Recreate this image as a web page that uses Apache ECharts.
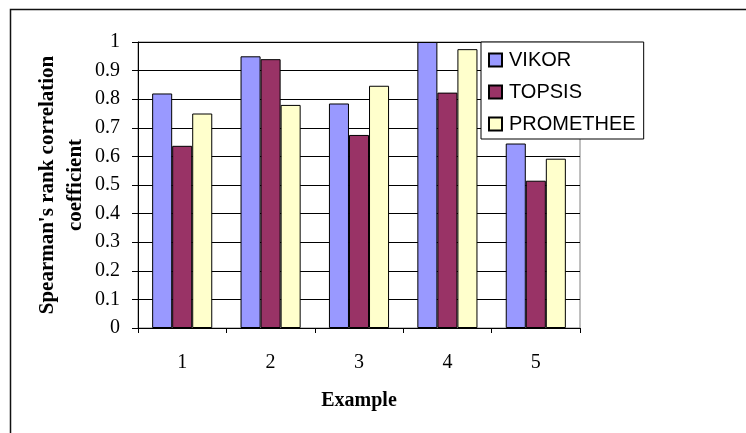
<!DOCTYPE html>
<html>
<head>
<meta charset="utf-8">
<script src="https://cdn.jsdelivr.net/npm/echarts@6/dist/echarts.min.js"></script>
<style>
html,body{margin:0;padding:0;background:#fff;}
#chart{width:746px;height:433px;}
</style>
</head>
<body>
<div id="chart"></div>
<script>
const categories = ['1', '2', '3', '4', '5'];
const seriesNames = ['VIKOR', 'TOPSIS', 'PROMETHEE'];
const vikor = [0.82, 0.95, 0.785, 1.0, 0.645];
const topsis = [0.637, 0.94, 0.675, 0.823, 0.515];
const promethee = [0.75, 0.78, 0.847, 0.975, 0.592];
const seriesColors = ['#9999FF', '#993366', '#FFFFCC'];
const yTicks = { min: 0, max: 1, interval: 0.1 };

const serif = '"Liberation Serif", "Times New Roman", serif';
const sans = '"Liberation Sans", Arial, sans-serif';

const chart = echarts.init(document.getElementById('chart'), null, { renderer: 'canvas' });
const dataSets = [vikor, topsis, promethee];

chart.setOption({
  animation: false,
  backgroundColor: '#fff',
  graphic: [{
    type: 'polyline',
    shape: { points: [[10.5, 433], [10.5, 9.5], [746, 9.5]] },
    style: { stroke: '#111', lineWidth: 1.5, fill: null },
    silent: true
  }],
  grid: {
    left: 138, right: 166, top: 42, bottom: 105,
    show: true, borderColor: '#808080', borderWidth: 1, backgroundColor: 'transparent'
  },
  legend: {
    data: seriesNames,
    left: 481, top: 42,
    orient: 'vertical',
    width: 162,
    padding: [8, 8, 5, 7],
    itemWidth: 13, itemHeight: 13, itemGap: 12,
    backgroundColor: '#fff',
    borderColor: '#000', borderWidth: 1,
    icon: 'rect',
    textStyle: { fontFamily: sans, fontSize: 20, color: '#000', lineHeight: 20, padding: [0, 0, 0, 2] }
  },
  xAxis: {
    type: 'category',
    data: categories,
    name: 'Example',
    nameLocation: 'middle',
    nameGap: 63,
    nameMoveOverlap: false,
    nameTextStyle: { fontFamily: serif, fontSize: 20, fontWeight: 'bold', color: '#000' },
    axisLine: { lineStyle: { color: '#000', width: 1 } },
    axisTick: { show: true, length: 5, inside: false, lineStyle: { color: '#000' } },
    axisLabel: { fontFamily: serif, fontSize: 20, color: '#000', margin: 25, lineHeight: 20 },
    splitLine: { show: false }
  },
  yAxis: {
    type: 'value',
    min: yTicks.min, max: yTicks.max, interval: yTicks.interval,
    name: "Spearman's rank correlation\ncoefficient",
    nameLocation: 'middle',
    nameRotate: 90,
    nameGap: 48,
    nameMoveOverlap: false,
    nameTextStyle: { fontFamily: serif, fontSize: 21, fontWeight: 'bold', color: '#000', lineHeight: 28, align: 'center' },
    axisLine: { show: true, lineStyle: { color: '#000', width: 1 } },
    axisTick: { show: true, length: 6, inside: false, lineStyle: { color: '#000' } },
    axisLabel: { fontFamily: serif, fontSize: 20, color: '#000', margin: 18 },
    splitLine: { show: true, lineStyle: { color: '#000', width: 1 } }
  },
  series: seriesNames.map((name, i) => ({
    name: name,
    type: 'bar',
    data: dataSets[i],
    barGap: '0%',
    barCategoryGap: '32%',
    itemStyle: { color: seriesColors[i], borderColor: '#000', borderWidth: 1 }
  }))
});
</script>
</body>
</html>
